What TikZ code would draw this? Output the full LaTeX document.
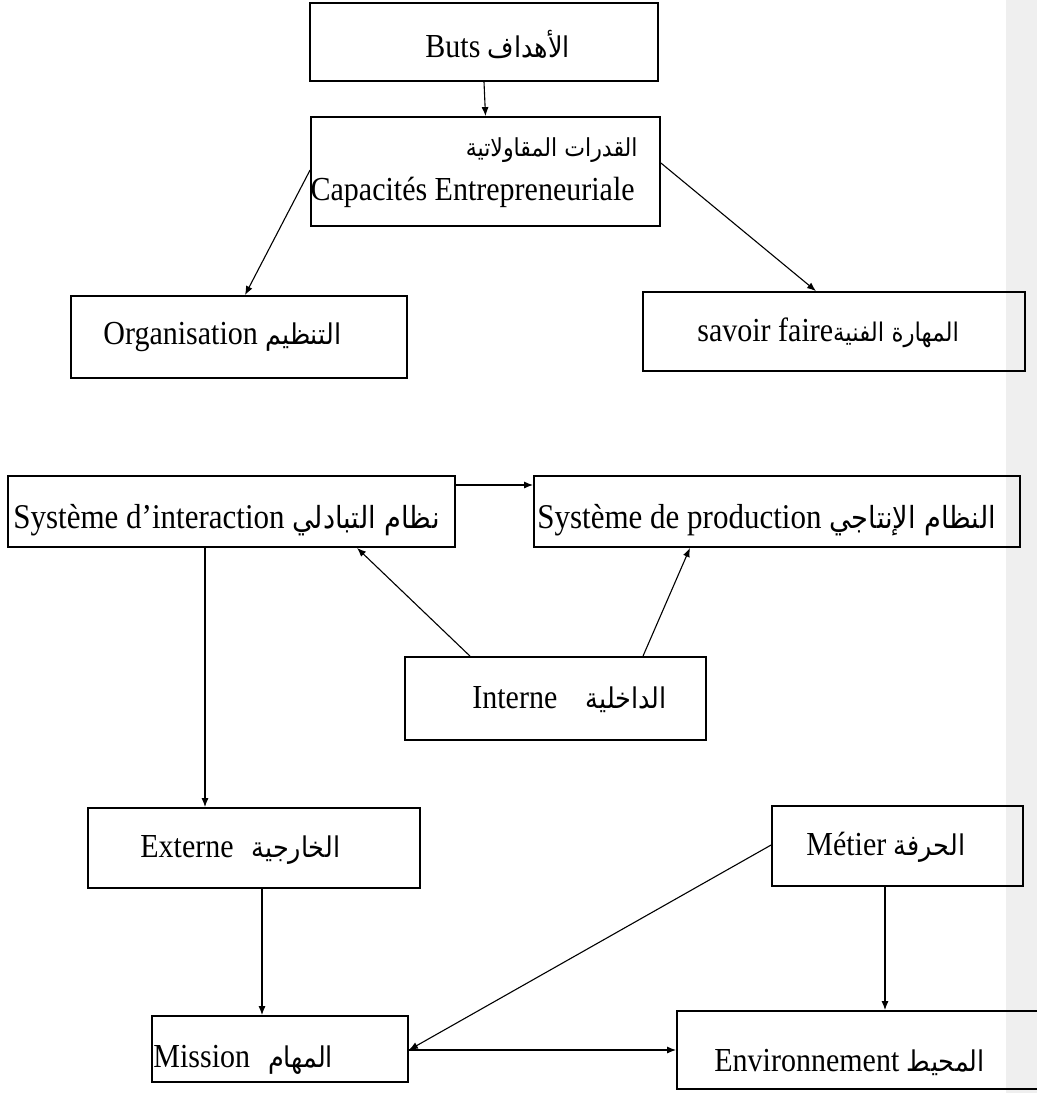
\documentclass[tikz,border=0pt]{standalone}
\usepackage{fontspec}
\setmainfont{Liberation Serif}
\newfontfamily\arfont[Script=Arabic,Scale=0.85]{DejaVu Sans}
\TeXXeTstate=1
\usetikzlibrary{arrows.meta,fit}
\definecolor{stripgray}{RGB}{239,239,239}
\newcommand{\tall}[1]{\scalebox{1}[1.12]{#1}}
\begin{document}
\begin{tikzpicture}[x=0.5pt,y=-0.5pt,
  box/.style={draw, line width=0.9pt, inner sep=0pt},
  arr/.style={-{Latex[length=4.5pt,width=3.5pt]}, line width=0.55pt},
  lbl/.style={inner sep=0pt, font=\fontsize{15}{18}\selectfont}]
\useasboundingbox (0,0) rectangle (1037,1093);
\clip (0,0) rectangle (1037,1093);
\fill[stripgray] (1006,0) rectangle (1037,1093);
% boxes
\node[box, fit={(310,3) (658,81)}] (buts) {};
\node[box, fit={(311,117) (660,226)}] (cap) {};
\node[box, fit={(71,296) (407,378)}] (org) {};
\node[box, fit={(643,292) (1025,371)}] (sav) {};
\node[box, fit={(8,476) (455,547)}] (inter) {};
\node[box, fit={(534,476) (1020,547)}] (prod) {};
\node[box, fit={(405,657) (706,740)}] (interne) {};
\node[box, fit={(88,808) (420,888)}] (externe) {};
\node[box, fit={(772,806) (1023,886)}] (metier) {};
\node[box, fit={(152,1016) (408,1082)}] (mission) {};
\node[box, fit={(677,1011) (1045,1089)}] (env) {};
% labels
\node[lbl, anchor=west] (tbuts) at (425,45) {\tall{Buts {\arfont\beginR الأهداف\endR}}};
\node[lbl, anchor=east] (tcap1) at (638,150) {\tall{{\fontsize{13}{13}\arfont\beginR القدرات المقاولاتية\endR}}};
\node[lbl, anchor=east] (tcap2) at (635,192) {\tall{Capacités Entrepreneuriale}};
\node[lbl, anchor=west] (torg) at (103,337) {\tall{Organisation {\arfont\beginR التنظيم\endR}}};
\node[lbl, anchor=west] (tsav) at (697,333) {\tall{savoir faire{\fontsize{13.5}{13.5}\arfont\beginR المهارة الفنية\endR}}};
\node[lbl, anchor=west, font=\fontsize{15.5}{18}\selectfont] (tinter) at (13,520) {\tall{Système d’interaction {\fontsize{16}{16}\arfont\beginR نظام التبادلي\endR}}};
\node[lbl, anchor=west, font=\fontsize{15.5}{18}\selectfont] (tprod) at (537,520) {\tall{Système de production {\fontsize{16}{16}\arfont\beginR النظام الإنتاجي\endR}}};
\node[lbl, anchor=west] (tinterne) at (472,700) {\tall{Interne\hspace{0.95em}{\arfont\beginR الداخلية\endR}}};
\node[lbl, anchor=west] (texterne) at (140,850) {\tall{Externe\hspace{0.6em}{\arfont\beginR الخارجية\endR}}};
\node[lbl, anchor=west] (tmetier) at (806,847) {\tall{Métier {\arfont\beginR الحرفة\endR}}};
\node[lbl, anchor=west] (tmission) at (153,1060) {\tall{Mission\hspace{0.6em}{\arfont\beginR المهام\endR}}};
\node[lbl, anchor=west] (tenv) at (714,1062) {\tall{Environnement {\arfont\beginR المحيط\endR}}};
% connectors
\draw[arr] (buts.south) -- (cap.north);
\draw[arr] (cap.west |- 0,170) -- (org.north west -| 245,0);
\draw[arr] (cap.east |- 0,163) -- (sav.north west -| 816,0);
\draw[arr] (inter.east |- 0,485) -- (prod.west |- 0,485);
\draw[arr] (interne.north west -| 470,0) -- (inter.south west -| 357,0);
\draw[arr] (interne.north west -| 643,0) -- (prod.south west -| 690,0);
\draw[arr] (inter.south west -| 205,0) -- (externe.north west -| 205,0);
\draw[arr] (externe.south west -| 262,0) -- (mission.north west -| 262,0);
\draw[arr] (metier.west |- 0,845) -- (mission.east |- 0,1050);
\draw[arr] (metier.south west -| 885,0) -- (env.north west -| 885,0);
\draw[arr] (mission.east |- 0,1050) -- (env.west |- 0,1050);
\end{tikzpicture}
\end{document}
